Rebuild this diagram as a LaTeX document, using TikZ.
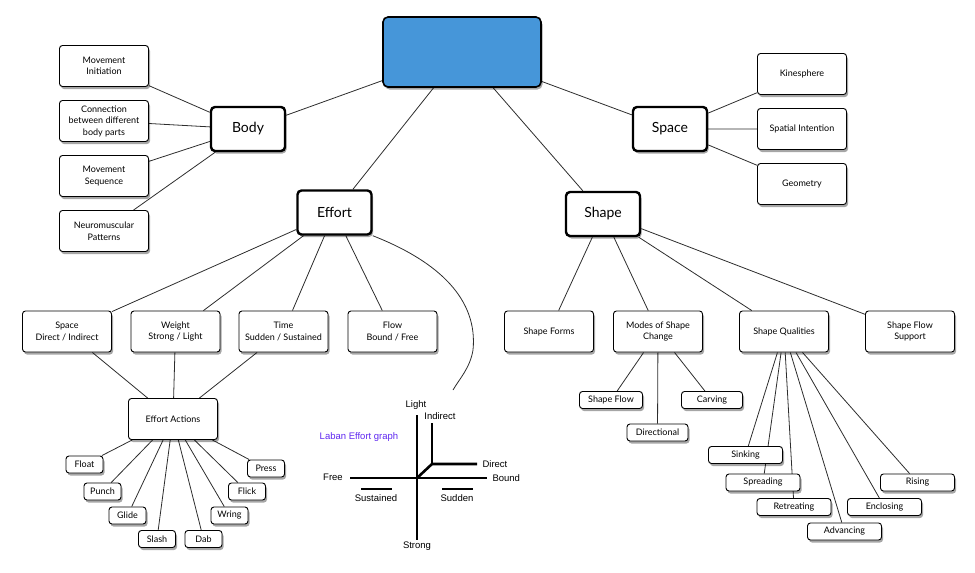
\documentclass[tikz,border=0pt]{standalone}
\usepackage{fontspec}
\setmainfont{Lato}
\newfontfamily\graphfont{Liberation Sans}
\usetikzlibrary{shadows,backgrounds}
\definecolor{rootblue}{RGB}{70,150,217}
\definecolor{linkgray}{RGB}{45,45,45}
\definecolor{graphviolet}{RGB}{95,40,240}

\begin{document}
\begin{tikzpicture}[x=1pt,y=-1pt,
 shade/.style={drop shadow={shadow xshift=1.5pt,shadow yshift=-2.5pt,opacity=.35,fill=black}},
 root/.style={draw,line width=1.6pt,rounded corners=5pt,fill=rootblue,minimum width=158pt,minimum height=70pt,shade},
 hub/.style={draw,line width=2.4pt,rounded corners=4pt,fill=white,minimum width=74pt,minimum height=44pt,font=\fontsize{14}{16}\selectfont,shade},
 item/.style={draw,line width=.9pt,rounded corners=3pt,fill=white,minimum width=89pt,minimum height=41pt,align=center,font=\fontsize{9}{11.5}\selectfont,shade},
 tag/.style={item,minimum width=37pt,minimum height=17pt,inner sep=1pt},
 wtag/.style={tag,minimum width=74pt},
 link/.style={draw=linkgray,line width=.8pt},
 axis/.style={line width=2.6pt},
 gtext/.style={font=\graphfont\fontsize{9.5}{11}\selectfont}]
\useasboundingbox (0,0) rectangle (975,573);
\node[root] (root) at (462,52) {};
\node[hub] (body) at (248,129) {Body};
\node[hub] (space) at (670,129) {Space};
\node[hub] (effort) at (334.5,212.5) {Effort};
\node[hub] (shape) at (603,214) {Shape};
\node[item] (mvInit) at (104,66) {Movement\\Initiation};
\node[item] (mvConn) at (104,121) {Connection\\between different\\body parts};
\node[item] (mvSeq) at (104,176) {Movement\\Sequence};
\node[item] (neuro) at (104,231) {Neuromuscular\\Patterns};
\node[item] (kine) at (802,74) {Kinesphere};
\node[item] (spatial) at (802,129) {Spatial Intention};
\node[item] (geom) at (802,184) {Geometry};
\node[item] (effSpace) at (67,331.5) {Space\\Direct / Indirect};
\node[item] (effWeight) at (175.5,331.5) {Weight\\Strong / Light};
\node[item] (effTime) at (283.5,331.5) {Time\\Sudden / Sustained};
\node[item] (effFlow) at (392.5,331.5) {Flow\\Bound / Free};
\node[item] (actions) at (173,419) {Effort Actions};
\node[tag] (float) at (84.5,464.5) {Float};
\node[tag] (punch) at (102.5,491.5) {Punch};
\node[tag] (glide) at (127.5,515.5) {Glide};
\node[tag] (slash) at (157,539) {Slash};
\node[tag] (dab) at (203.5,539) {Dab};
\node[tag] (wring) at (229.5,515.5) {Wring};
\node[tag] (flick) at (247,491.5) {Flick};
\node[tag] (press) at (266,468.5) {Press};
\node[item] (forms) at (549,331.5) {Shape Forms};
\node[item] (modes) at (658,331.5) {Modes of Shape\\Change};
\node[item] (qualities) at (784,331.5) {Shape Qualities};
\node[item] (flowSupport) at (910,331.5) {Shape Flow\\Support};
\node[tag,minimum width=63pt] (shFlow) at (611,400) {Shape Flow};
\node[tag,minimum width=61pt] (directional) at (657.5,432.5) {Directional};
\node[tag,minimum width=61pt] (carving) at (712,400) {Carving};
\node[wtag] (sinking) at (745.5,455) {Sinking};
\node[wtag] (spreading) at (763,482.5) {Spreading};
\node[wtag] (retreating) at (794,507) {Retreating};
\node[wtag] (advancing) at (844.5,531.5) {Advancing};
\node[wtag] (enclosing) at (884.5,507) {Enclosing};
\node[wtag] (rising) at (917.5,482.5) {Rising};
\coordinate (curveEnd) at (453,390);
\begin{scope}[on background layer]
\draw[link] (root)--(body) (root)--(space) (root)--(effort) (root)--(shape);
\draw[link] (body)--(mvInit) (body)--(mvConn) (body)--(mvSeq) (body)--(neuro);
\draw[link] (space)--(kine) (space)--(spatial) (space)--(geom);
\draw[link] (effort)--(effSpace) (effort)--(effWeight) (effort)--(effTime) (effort)--(effFlow);
\draw[link] (effSpace)--(actions) (effWeight)--(actions) (effTime)--(actions);
\draw[link] (actions)--(float) (actions)--(punch) (actions)--(glide) (actions)--(slash)
 (actions)--(dab) (actions)--(wring) (actions)--(flick) (actions)--(press);
\draw[link] (shape)--(forms) (shape)--(modes) (shape)--(qualities) (shape)--(flowSupport);
\draw[link] (modes)--(shFlow) (modes)--(directional) (modes)--(carving);
\draw[link] (qualities)--(sinking) (qualities)--(spreading) (qualities)--(retreating)
 (qualities)--(advancing) (qualities)--(enclosing) (qualities)--(rising);
\end{scope}
\draw[link] (effort.south east) .. controls (440,262) and (478,300) .. (473,350)
 .. controls (470,368) and (460,378) .. (curveEnd);
\coordinate (origin) at (417,478);
\coordinate (bend) at (432,464);
\draw[axis] (417,415)--(417,540);
\draw[axis] (350,478)--(487,478);
\draw[axis] (origin)--(bend)--(477,464);
\draw[axis] (bend)--(432,423);
\draw[axis] (361,489)--(392,489);
\draw[axis] (442,489)--(473,489);
\node[gtext] (light) at (416,405) {Light};
\node[gtext] (strong) at (417,546) {Strong};
\node[gtext] (free) at (333,477) {Free};
\node[gtext,anchor=west] (bound) at (489,478) {Bound};
\node[gtext] (indirect) at (440,416) {Indirect};
\node[gtext,anchor=west] (direct) at (479,464) {Direct};
\node[gtext] (sustained) at (376,498) {Sustained};
\node[gtext] (sudden) at (457,498) {Sudden};
\node[gtext,text=graphviolet] (graphTitle) at (359,437) {Laban Effort graph};
\end{tikzpicture}
\end{document}
